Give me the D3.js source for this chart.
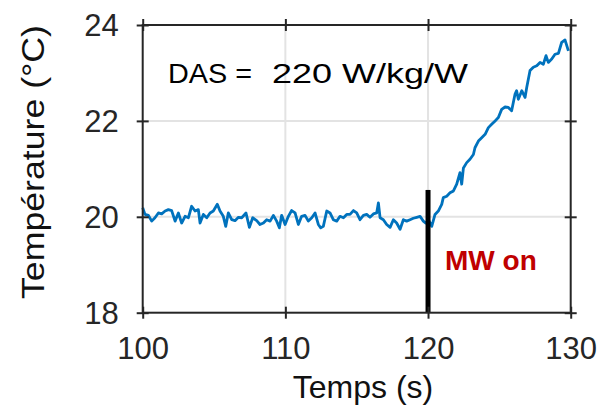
<!DOCTYPE html>
<html>
<head>
<meta charset="utf-8">
<script src="https://cdn.jsdelivr.net/npm/d3@7"></script>
<style>
  html, body { margin: 0; padding: 0; background: #fff; }
  svg { display: block; }
  text { font-family: "Liberation Sans", Arial, Helvetica, sans-serif; }
</style>
</head>
<body>
<svg id="chart" width="605" height="410"></svg>
<script>
// ---- data ----
const timeValues = [
  100.00,100.16,100.40,100.63,100.86,101.10,101.33,101.57,101.80,102.03,
  102.27,102.50,102.73,102.97,103.20,103.43,103.67,103.90,104.02,104.25,
  104.49,104.72,104.95,105.23,105.42,105.65,105.82,106.00,106.24,106.47,
  106.71,106.94,107.24,107.48,107.71,107.99,108.22,108.46,108.69,108.93,
  109.16,109.39,109.58,109.74,109.98,110.21,110.44,110.68,110.91,111.14,
  111.38,111.61,111.85,112.08,112.31,112.48,112.66,112.90,113.13,113.36,
  113.60,113.83,114.07,114.30,114.53,114.77,115.00,115.23,115.47,115.70,
  115.93,116.17,116.40,116.52,116.64,116.87,117.10,117.34,117.57,117.80,
  118.04,118.27,118.50,118.74,118.97,119.21,119.44,119.67,119.84,120.02,
  120.26,120.49,120.72,120.96,121.07,121.31,121.54,121.78,122.01,122.24,
  122.36,122.48,122.71,122.94,123.18,123.29,123.53,123.76,124.00,124.23,
  124.46,124.70,124.93,125.16,125.40,125.63,125.86,126.10,126.21,126.33,
  126.57,126.80,126.92,127.15,127.38,127.62,127.85,128.08,128.27,128.43,
  128.67,128.90,129.14,129.37,129.60,129.84
];
const tempValues = [
  20.19,20.05,20.03,19.91,19.98,20.08,20.06,20.12,20.15,20.13,
  19.91,20.08,19.87,20.01,19.98,20.22,20.12,20.15,19.87,20.05,
  19.98,20.08,20.12,20.26,20.12,20.01,19.80,20.08,19.94,19.92,
  19.99,19.98,20.08,19.78,19.98,19.92,19.84,19.87,19.94,19.91,
  20.03,19.91,19.77,20.03,19.84,20.01,20.13,20.08,19.84,20.01,
  20.03,19.91,19.98,20.08,19.84,19.77,19.80,20.12,20.08,19.94,
  19.91,20.01,19.98,20.05,20.05,20.13,20.08,19.94,20.03,20.05,
  19.99,20.06,20.08,20.29,19.98,19.94,19.84,19.78,19.94,19.87,
  19.74,19.94,19.91,19.94,19.97,19.99,20.01,19.91,19.87,19.94,
  19.80,20.05,20.12,20.26,20.40,20.43,20.50,20.54,20.68,20.92,
  20.68,21.02,21.13,21.20,21.30,21.44,21.58,21.65,21.72,21.86,
  21.93,22.00,22.07,22.24,22.29,22.28,22.21,22.56,22.63,22.45,
  22.63,22.49,22.70,23.05,23.12,23.15,23.22,23.18,23.36,23.22,
  23.29,23.39,23.41,23.64,23.69,23.46
];
const xTicks = [100, 110, 120, 130];
const yTicks = [18, 20, 22, 24];
const xDomain = [100, 130];
const yDomain = [18, 24];
const mwOnTime = [120];
const mwOnTop = [20.56];
const xLabel = "Temps (s)";
const yLabel = "Température (°C)";
const annotationLeft = "DAS =";
const annotationRight = "220 W/kg/W";
const mwLabel = "MW on";

// ---- layout ----
const L = 142.7, R = 570.7, T = 25, B = 312.7;
const axisColor = "#262626";
const svg = d3.select("#chart");

const x = d3.scaleLinear().domain(xDomain).range([L, R]);
const y = d3.scaleLinear().domain(yDomain).range([B, T]);

// grid
const grid = svg.append("g");
grid.selectAll("line.gx").data(xTicks.filter(d => d !== xDomain[0] && d !== xDomain[1]))
  .join("line").attr("class", "gx")
  .attr("x1", d => x(d)).attr("x2", d => x(d)).attr("y1", T).attr("y2", B)
  .attr("stroke", "#e3e3e3").attr("stroke-width", 2);
grid.selectAll("line.gy").data(yTicks.filter(d => d !== yDomain[0] && d !== yDomain[1]))
  .join("line").attr("class", "gy")
  .attr("y1", d => y(d)).attr("y2", d => y(d)).attr("x1", L).attr("x2", R)
  .attr("stroke", "#e3e3e3").attr("stroke-width", 2);

// data line
const data = timeValues.map((t, i) => ({ t, v: tempValues[i] }));
svg.append("path").datum(data)
  .attr("fill", "none")
  .attr("stroke", "#0072BD")
  .attr("stroke-width", 2.8)
  .attr("stroke-linejoin", "round")
  .attr("d", d3.line().x(d => x(d.t)).y(d => y(d.v)));

// MW on bar
svg.selectAll("line.mw").data(mwOnTime).join("line").attr("class", "mw")
  .attr("x1", d => x(d)).attr("x2", d => x(d))
  .attr("y1", (d, i) => y(mwOnTop[i])).attr("y2", y(yDomain[0]))
  .attr("stroke", "#000").attr("stroke-width", 5);

// axes
function crossTicks(g, horiz) {
  g.select(".domain").remove();
  g.selectAll(".tick line")
    .attr("stroke", axisColor).attr("stroke-width", 2)
    .each(function () {
      const s = d3.select(this);
      if (horiz) s.attr("y1", -6).attr("y2", 6);
      else s.attr("x1", -6).attr("x2", 6);
    });
}
const fontTick = 31;
const fmt = d3.format("d");
const gb = svg.append("g").attr("transform", `translate(0,${B})`)
  .call(d3.axisBottom(x).tickValues(xTicks).tickFormat(fmt).tickSize(6).tickSizeOuter(0));
crossTicks(gb, true);
gb.selectAll(".tick text").attr("y", 24).attr("dy", "0.71em")
  .attr("font-size", fontTick).attr("fill", axisColor).attr("font-family", null);

const gt = svg.append("g").attr("transform", `translate(0,${T})`)
  .call(d3.axisTop(x).tickValues(xTicks).tickSize(6).tickSizeOuter(0).tickFormat(""));
crossTicks(gt, true);

const gl = svg.append("g").attr("transform", `translate(${L},0)`)
  .call(d3.axisLeft(y).tickValues(yTicks).tickFormat(fmt).tickSize(6).tickSizeOuter(0));
crossTicks(gl, false);
gl.selectAll(".tick text").attr("x", -24).attr("dy", "0.34em")
  .attr("font-size", fontTick).attr("fill", axisColor).attr("font-family", null);

const gr = svg.append("g").attr("transform", `translate(${R},0)`)
  .call(d3.axisRight(y).tickValues(yTicks).tickSize(6).tickSizeOuter(0).tickFormat(""));
crossTicks(gr, false);

// frame
svg.append("rect").attr("x", L).attr("y", T).attr("width", R - L).attr("height", B - T)
  .attr("fill", "none").attr("stroke", axisColor).attr("stroke-width", 2);

// axis labels
svg.append("text").attr("x", 363).attr("y", 398).attr("text-anchor", "middle")
  .attr("font-size", 32).attr("fill", "#111").text(xLabel);
svg.append("text").attr("transform", "translate(44,162) rotate(-90)")
  .attr("text-anchor", "middle").attr("font-size", 32).attr("fill", "#111")
  .attr("textLength", 274).attr("lengthAdjust", "spacingAndGlyphs").text(yLabel);

// annotations
svg.append("text").attr("x", 168).attr("y", 83).attr("font-size", 28).attr("fill", "#000")
  .attr("textLength", 84).attr("lengthAdjust", "spacingAndGlyphs").text(annotationLeft);
svg.append("text").attr("x", 272).attr("y", 83).attr("font-size", 28).attr("fill", "#000")
  .attr("textLength", 196).attr("lengthAdjust", "spacingAndGlyphs").text(annotationRight);
svg.append("text").attr("x", 445).attr("y", 270).attr("font-size", 28).attr("font-weight", "bold")
  .attr("fill", "#C00000").text(mwLabel);
</script>
</body>
</html>
